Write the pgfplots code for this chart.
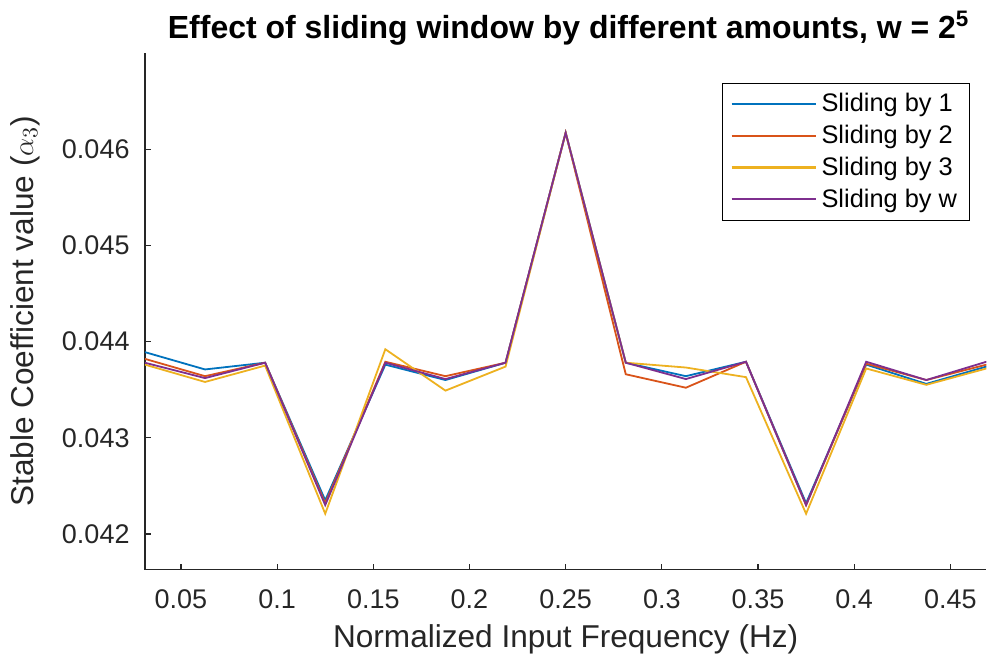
\documentclass[border=0pt]{standalone}
\usepackage{pgfplots}
\pgfplotsset{compat=1.18}
\usepackage{fontspec}
\setmainfont{Liberation Sans}

\definecolor{mBlue}{rgb}{0,0.447,0.741}
\definecolor{mRed}{rgb}{0.85,0.325,0.098}
\definecolor{mYellow}{rgb}{0.929,0.694,0.125}
\definecolor{mPurple}{rgb}{0.494,0.184,0.556}
\definecolor{axgray}{rgb}{0.15,0.15,0.15}

\begin{document}
\begin{tikzpicture}
\begin{axis}[
  scale only axis,
  width=421pt, height=258.5pt,
  xmin=0.03125, xmax=0.46875,
  ymin=0.041629, ymax=0.047,
  axis x line*=bottom, axis y line*=left,
  axis line style={draw=axgray, line width=0.6pt},
  every tick/.style={draw=axgray, line width=0.6pt},
  major tick length=3pt,
  tick align=inside,
  xtick={0.05,0.1,0.15,0.2,0.25,0.3,0.35,0.4,0.45},
  xticklabels={0.05,0.1,0.15,0.2,0.25,0.3,0.35,0.4,0.45},
  ytick={0.042,0.043,0.044,0.045,0.046},
  yticklabels={0.042,0.043,0.044,0.045,0.046},
  scaled y ticks=false, scaled x ticks=false,
  /pgf/number format/assume math mode=true,
  tick label style={font=\fontsize{13.5}{16}\selectfont, text=axgray},
  xticklabel style={anchor=north, inner sep=0pt, yshift=-10pt},
  yticklabel style={anchor=east, inner sep=0pt, xshift=-7.5pt},
  title={\textbf{Effect of sliding window by different amounts, w = 2\textsuperscript{5}}},
  title style={font=\fontsize{16}{19}\selectfont, at={(axis description cs:0.5,1)}, anchor=base, xshift=1.5pt, yshift=1pt, inner sep=0pt},
  xlabel={Normalized Input Frequency (Hz)},
  xlabel style={font=\fontsize{15.8}{19}\selectfont, text=axgray, at={(axis description cs:0.5,-0.1509)}, anchor=base, inner sep=0pt},
  ylabel={Stable Coefficient value ($\alpha_3$)},
  ylabel style={font=\fontsize{15.8}{19}\selectfont, text=axgray, at={(axis description cs:-0.1425,0.5)}, anchor=center, inner sep=0pt},
  legend style={at={(0.9798,0.942)}, anchor=north east,
    font=\fontsize{12.7}{15}\selectfont, row sep=1.2pt, inner xsep=4pt, inner ysep=3pt},
  legend cell align=left,
  legend image code/.code={\draw[mark repeat=2,mark phase=2,#1,line width=1.1pt]
      plot coordinates {(0pt,0pt) (21pt,0pt) (42.5pt,0pt)};},
  every axis plot/.append style={line width=0.9pt},
]
% Sliding by 1
\addplot[color=mBlue] coordinates {
 (0.03125,0.04389) (0.0625,0.04371) (0.09375,0.04378) (0.125,0.04235)
 (0.15625,0.04376) (0.1875,0.04360) (0.21875,0.04378) (0.25,0.04617)
 (0.28125,0.04378) (0.3125,0.04364) (0.34375,0.04379) (0.375,0.04232)
 (0.40625,0.04376) (0.4375,0.04356) (0.46875,0.04374)};
\addlegendentry{Sliding by 1}
% Sliding by 2
\addplot[color=mRed] coordinates {
 (0.03125,0.04382) (0.0625,0.04364) (0.09375,0.04378) (0.125,0.04232)
 (0.15625,0.04379) (0.1875,0.04364) (0.21875,0.04378) (0.25,0.04617)
 (0.28125,0.04366) (0.3125,0.04352) (0.34375,0.04379) (0.375,0.04230)
 (0.40625,0.04377) (0.4375,0.04360) (0.46875,0.04376)};
\addlegendentry{Sliding by 2}
% Sliding by 3
\addplot[color=mYellow] coordinates {
 (0.03125,0.04376) (0.0625,0.04358) (0.09375,0.04375) (0.125,0.04221)
 (0.15625,0.04392) (0.1875,0.04349) (0.21875,0.04374) (0.25,0.04617)
 (0.28125,0.04378) (0.3125,0.04373) (0.34375,0.04363) (0.375,0.04221)
 (0.40625,0.04372) (0.4375,0.04355) (0.46875,0.04372)};
\addlegendentry{Sliding by 3}
% Sliding by w
\addplot[color=mPurple] coordinates {
 (0.03125,0.04378) (0.0625,0.04362) (0.09375,0.04378) (0.125,0.04230)
 (0.15625,0.04378) (0.1875,0.04361) (0.21875,0.04378) (0.25,0.04617)
 (0.28125,0.04378) (0.3125,0.04361) (0.34375,0.04379) (0.375,0.04230)
 (0.40625,0.04379) (0.4375,0.04360) (0.46875,0.04379)};
\addlegendentry{Sliding by w}
\end{axis}
\path[use as bounding box] (-72.5pt,-43pt) rectangle (421pt,285pt);
\end{tikzpicture}
\end{document}
